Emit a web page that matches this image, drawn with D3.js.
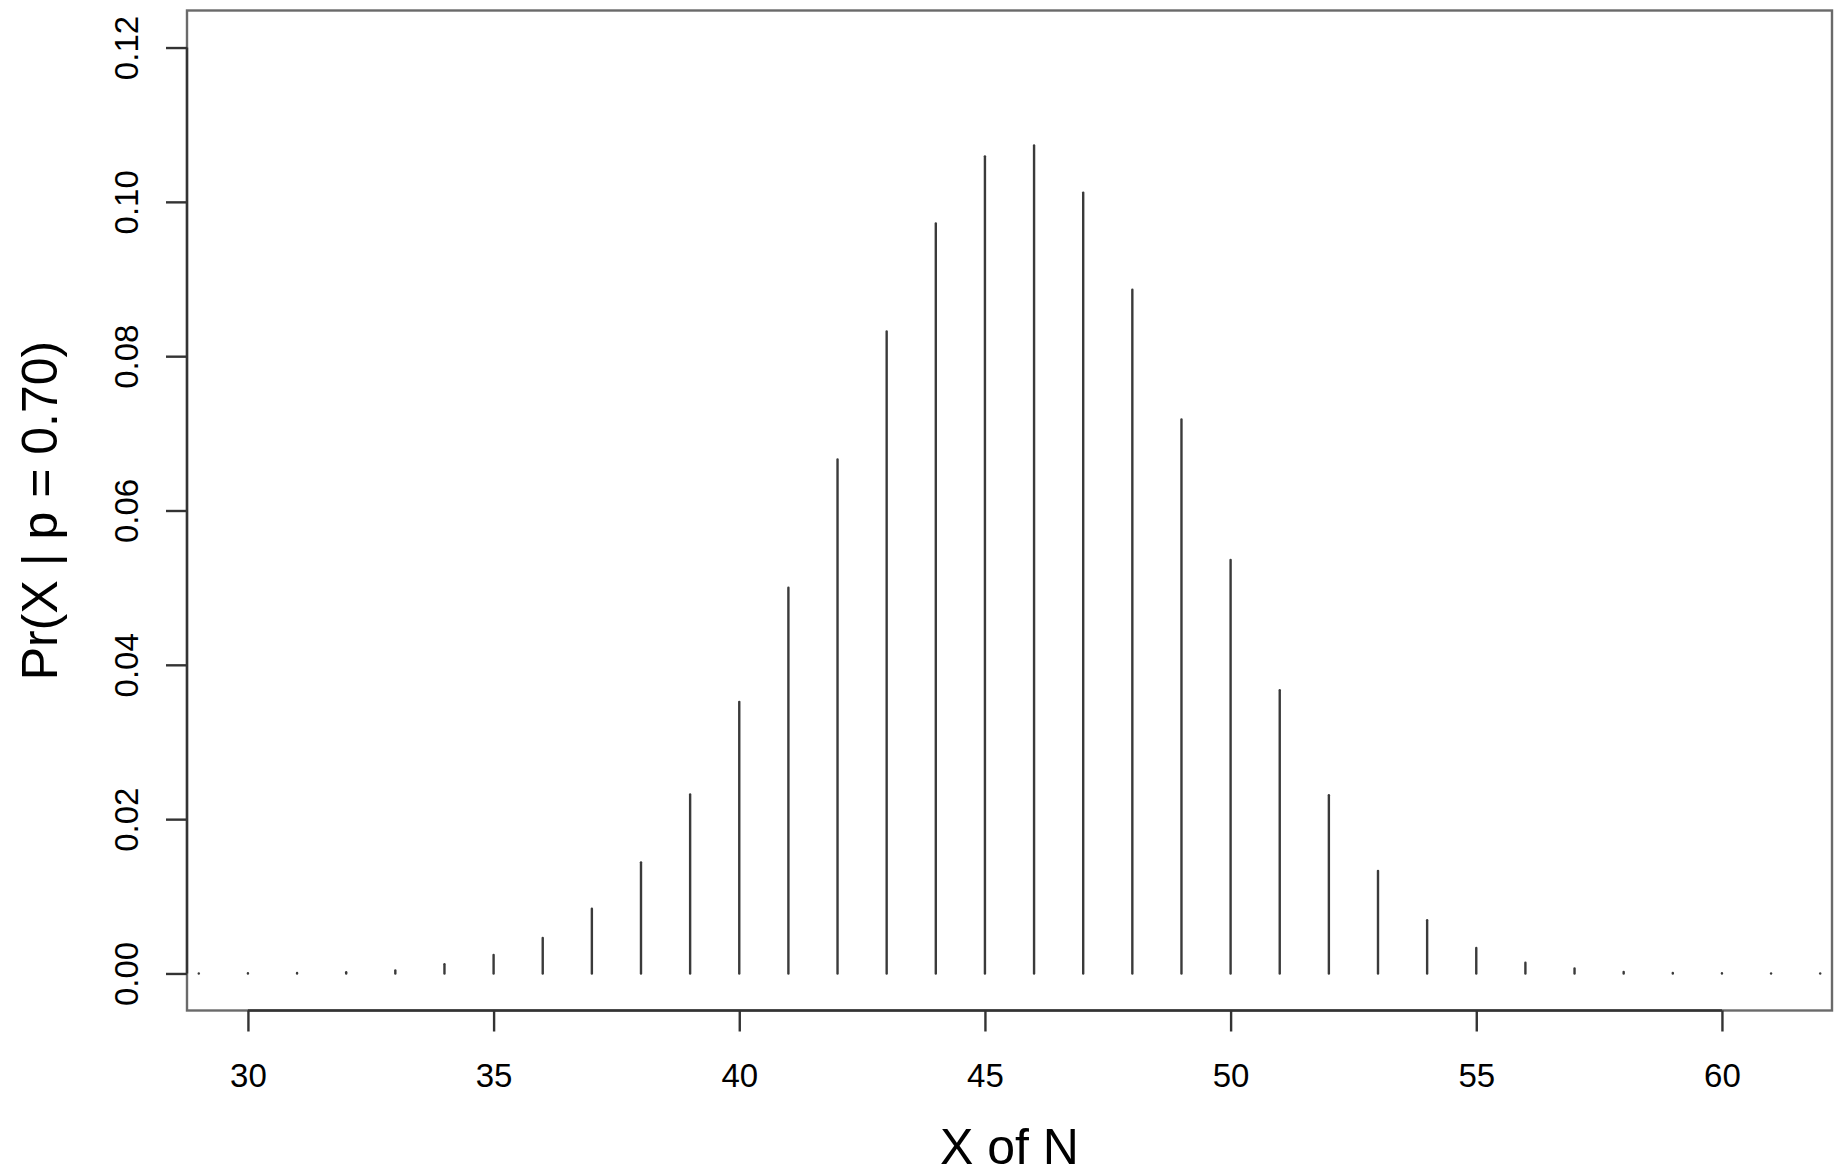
<!DOCTYPE html>
<html>
<head>
<meta charset="utf-8">
<script src="https://cdn.jsdelivr.net/npm/d3@7/dist/d3.min.js"></script>
<style>
  html, body { margin: 0; padding: 0; background: #fff; }
  svg { display: block; }
  text { font-family: "Liberation Sans", Arial, Helvetica, sans-serif; fill: #000; }
</style>
</head>
<body>
<script>
// Successes X out of N trials and their probabilities Pr(X | p = 0.70)
const successes = [29, 30, 31, 32, 33, 34, 35, 36, 37, 38, 39, 40, 41, 42, 43, 44, 45,
                   46, 47, 48, 49, 50, 51, 52, 53, 54, 55, 56, 57, 58, 59, 60, 61, 62];
const probabilities = [0.00001, 0.00003, 0.00007, 0.00016, 0.0004, 0.0012, 0.0024, 0.0046,
                       0.0084, 0.0144, 0.0232, 0.0352, 0.0500, 0.0666, 0.0832, 0.0972,
                       0.1059, 0.1073, 0.1012, 0.0886, 0.0718, 0.0536, 0.0367, 0.0231,
                       0.0133, 0.0069, 0.0033, 0.0014, 0.00065, 0.0002, 0.00006, 0.00002,
                       0.000003, 0.0000004];
const xTicks = [30, 35, 40, 45, 50, 55, 60];
const yTicks = [0.00, 0.02, 0.04, 0.06, 0.08, 0.10, 0.12];
const xLabel = "X of N";
const yLabel = "Pr(X | p = 0.70)";

const W = 1834, H = 1175;
const plot = { left: 187, right: 1832, top: 10.5, bottom: 1010.5 };

// R-style 4% padding around the axis limits
const xLim = [30, 61], yLim = [0, 0.12];
const pad = (lim) => { const d = (lim[1] - lim[0]) * 0.04; return [lim[0] - d, lim[1] + d]; };

const x = d3.scaleLinear().domain(pad(xLim)).range([plot.left, plot.right]);
const y = d3.scaleLinear().domain(pad(yLim)).range([plot.bottom, plot.top]);

const svg = d3.select("body").append("svg")
  .attr("width", W).attr("height", H);

svg.append("defs").append("clipPath").attr("id", "plot-clip")
  .append("rect")
  .attr("x", plot.left).attr("y", plot.top)
  .attr("width", plot.right - plot.left).attr("height", plot.bottom - plot.top);

// Probability spikes
const data = successes.map((k, i) => ({ k, p: probabilities[i] }));
svg.append("g").attr("clip-path", "url(#plot-clip)")
  .selectAll("line").data(data).join("line")
  .attr("x1", d => x(d.k)).attr("x2", d => x(d.k))
  .attr("y1", y(0)).attr("y2", d => y(d.p))
  .attr("stroke", "#3a3a3a")
  .attr("stroke-width", 2.4)
  .attr("stroke-linecap", "round");

// Frame around the plotting region
svg.append("rect")
  .attr("x", plot.left).attr("y", plot.top)
  .attr("width", plot.right - plot.left).attr("height", plot.bottom - plot.top)
  .attr("fill", "none").attr("stroke", "#6a6a6a").attr("stroke-width", 2.4);

// Bottom axis
const xAxis = d3.axisBottom(x).tickValues(xTicks).tickSize(21).tickPadding(0)
  .tickFormat(d3.format("d"));
const gx = svg.append("g").attr("transform", `translate(0,${plot.bottom})`).call(xAxis);
gx.select(".domain").remove();
gx.append("line")
  .attr("x1", x(xTicks[0])).attr("x2", x(xTicks[xTicks.length - 1]))
  .attr("stroke", "#333").attr("stroke-width", 2.4);
gx.selectAll(".tick line").attr("stroke", "#333").attr("stroke-width", 2.4);
gx.selectAll(".tick text")
  .attr("y", 76).attr("dy", null)
  .style("font-size", "33px")
  .style("font-family", "'Liberation Sans', Arial, sans-serif")
  .attr("fill", "#000");

// Left axis with labels rotated parallel to it
const yAxis = d3.axisLeft(y).tickValues(yTicks).tickSize(21).tickPadding(0)
  .tickFormat(d3.format(".2f"));
const gy = svg.append("g").attr("transform", `translate(${plot.left},0)`).call(yAxis);
gy.select(".domain").remove();
gy.append("line")
  .attr("y1", y(yTicks[0])).attr("y2", y(yTicks[yTicks.length - 1]))
  .attr("stroke", "#333").attr("stroke-width", 2.4);
gy.selectAll(".tick line").attr("stroke", "#333").attr("stroke-width", 2.4);
gy.selectAll(".tick text")
  .attr("x", null).attr("dy", null)
  .attr("text-anchor", "middle")
  .attr("transform", `translate(${138 - plot.left},0) rotate(-90)`)
  .style("font-size", "33px")
  .style("font-family", "'Liberation Sans', Arial, sans-serif")
  .attr("fill", "#000");

// Axis titles
svg.append("text")
  .attr("x", (plot.left + plot.right) / 2).attr("y", 1164)
  .attr("text-anchor", "middle")
  .style("font-size", "50px")
  .text(xLabel);

svg.append("text")
  .attr("transform", `translate(57,${(plot.top + plot.bottom) / 2}) rotate(-90)`)
  .attr("text-anchor", "middle")
  .style("font-size", "50px")
  .text(yLabel);
</script>
</body>
</html>
